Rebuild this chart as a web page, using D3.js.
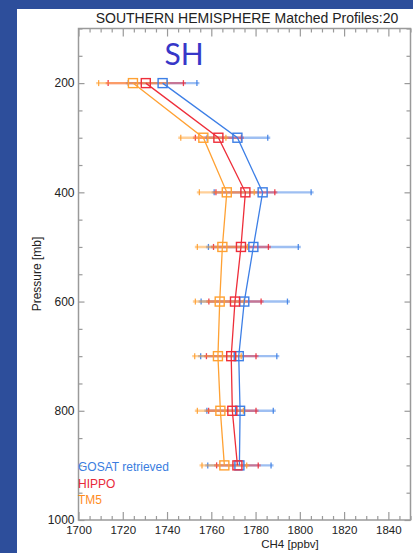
<!DOCTYPE html>
<html>
<head>
<meta charset="utf-8">
<script src="https://cdn.jsdelivr.net/npm/d3@7"></script>
<style>
  html, body { margin: 0; padding: 0; background: #2d4e9b; }
  svg { display: block; }
</style>
</head>
<body>
<svg id="chart" width="413" height="553"></svg>
<script>
// Pressure levels (mb) of the matched profiles
const levels = [200, 300, 400, 500, 600, 700, 800, 900];

// Mean CH4 (ppbv) and spread at each level
const gosat    = [1738.0, 1771.8, 1783.2, 1779.0, 1774.9, 1772.4, 1773.0, 1772.7];
const gosatErr = [15.5, 13.7, 21.9, 20.3, 19.5, 17.2, 15.0, 14.3];
const hippo    = [1730.4, 1763.2, 1775.4, 1773.4, 1770.7, 1769.0, 1769.5, 1771.8];
const hippoErr = [17.0, 10.4, 13.3, 12.4, 11.8, 11.2, 10.7, 9.4];
const tm5      = [1724.6, 1756.4, 1767.0, 1765.0, 1763.8, 1763.0, 1764.1, 1765.9];
const tm5Err   = [15.5, 10.2, 12.4, 11.3, 11.0, 10.5, 10.4, 10.1];

const seriesNames = ["GOSAT retrieved", "HIPPO", "TM5"];

// Axis ticks
const xMajorTicks = [1700, 1720, 1740, 1760, 1780, 1800, 1820, 1840];
const yMajorTicks = [200, 400, 600, 800, 1000];

const title = "SOUTHERN HEMISPHERE Matched Profiles:20";
const regionLabel = "SH";

const colors = { "GOSAT retrieved": "#3d7fe6", "HIPPO": "#ee2e3a", "TM5": "#ffa133" };
const legendColors = { "GOSAT retrieved": "#3a7de0", "HIPPO": "#e82a3a", "TM5": "#ff8c1f" };

const series = [
  { name: seriesNames[0], values: gosat, err: gosatErr },
  { name: seriesNames[1], values: hippo, err: hippoErr },
  { name: seriesNames[2], values: tm5, err: tm5Err }
];

const svg = d3.select("#chart");
const font = "'Liberation Sans', Arial, sans-serif";

// white panel
svg.append("rect").attr("x", 17).attr("y", 9).attr("width", 396).attr("height", 544).attr("fill", "#fff");

const plotLeft = 78.5, plotRight = 410.5, plotTop = 28.5, plotBottom = 520;
const x = d3.scaleLinear().domain([1700, 1850]).range([plotLeft, plotRight]);
const y = d3.scaleLinear().domain([100, 1000]).range([plotTop, plotBottom]);

const axisColor = "#9a9a9a";
const xMinor = d3.range(1700, 1851, 5).filter(v => v % 20 !== 0);
const yMinor = d3.range(100, 1001, 50).filter(v => v % 200 !== 0);

function styleAxis(g) {
  g.select(".domain").remove();
  g.selectAll(".tick line").attr("stroke", axisColor).attr("stroke-width", 1.2);
  g.selectAll(".tick text").attr("fill", "#222").style("font-family", font);
}

// bottom axis
svg.append("g").attr("transform", `translate(0,${plotBottom})`)
  .call(d3.axisBottom(x).tickValues(xMajorTicks).tickSize(-8).tickPadding(6).tickFormat(d3.format("d")))
  .call(styleAxis).selectAll(".tick text").style("font-size", "11.5px");
svg.append("g").attr("transform", `translate(0,${plotBottom})`)
  .call(d3.axisBottom(x).tickValues(xMinor).tickSize(-4).tickFormat(""))
  .call(styleAxis);

// top axis
svg.append("g").attr("transform", `translate(0,${plotTop})`)
  .call(d3.axisTop(x).tickValues(xMajorTicks).tickSize(-8).tickFormat(""))
  .call(styleAxis);
svg.append("g").attr("transform", `translate(0,${plotTop})`)
  .call(d3.axisTop(x).tickValues(xMinor).tickSize(-4).tickFormat(""))
  .call(styleAxis);

// left axis
svg.append("g").attr("transform", `translate(${plotLeft},0)`)
  .call(d3.axisLeft(y).tickValues(yMajorTicks).tickSize(-6).tickPadding(4).tickFormat(d3.format("d")))
  .call(styleAxis).selectAll(".tick text").style("font-size", "12px");
svg.append("g").attr("transform", `translate(${plotLeft},0)`)
  .call(d3.axisLeft(y).tickValues(yMinor).tickSize(-4).tickFormat(""))
  .call(styleAxis);

// right axis
svg.append("g").attr("transform", `translate(${plotRight},0)`)
  .call(d3.axisRight(y).tickValues(yMajorTicks).tickSize(-6).tickFormat(""))
  .call(styleAxis);
svg.append("g").attr("transform", `translate(${plotRight},0)`)
  .call(d3.axisRight(y).tickValues(yMinor).tickSize(-4).tickFormat(""))
  .call(styleAxis);

// frame
svg.append("rect").attr("x", plotLeft).attr("y", plotTop)
  .attr("width", plotRight - plotLeft).attr("height", plotBottom - plotTop)
  .attr("fill", "none").attr("stroke", axisColor).attr("stroke-width", 1.5);

// error bars
series.forEach(s => {
  const c = colors[s.name];
  const g = svg.append("g");
  levels.forEach((p, i) => {
    const x0 = x(s.values[i] - s.err[i]), x1 = x(s.values[i] + s.err[i]), yy = y(p);
    g.append("line").attr("x1", x0 - 2.5).attr("x2", x1 + 2.5).attr("y1", yy).attr("y2", yy)
      .attr("stroke", c).attr("stroke-width", 2.4).attr("stroke-opacity", 0.5);
    [x0, x1].forEach(xx => {
      g.append("line").attr("x1", xx).attr("x2", xx).attr("y1", yy - 3).attr("y2", yy + 3)
        .attr("stroke", c).attr("stroke-width", 1.3).attr("stroke-opacity", 0.9);
    });
  });
});

// profiles and markers
const line = d3.line().x(d => x(d[0])).y(d => y(d[1]));
series.forEach(s => {
  const c = colors[s.name];
  const pts = levels.map((p, i) => [s.values[i], p]);
  svg.append("path").attr("d", line(pts)).attr("fill", "none").attr("stroke", c).attr("stroke-width", 1.3);
  svg.append("g").selectAll("rect").data(pts).join("rect")
    .attr("x", d => x(d[0]) - 4.5).attr("y", d => y(d[1]) - 4.5)
    .attr("width", 9).attr("height", 9)
    .attr("fill", "none").attr("stroke", c).attr("stroke-width", 1.4);
});

// title
svg.append("text").attr("x", 247).attr("y", 22.5).attr("text-anchor", "middle")
  .style("font-family", font).style("font-size", "14px").attr("fill", "#222").text(title);

// region label
svg.append("text").attr("x", 184).attr("y", 65).attr("text-anchor", "middle")
  .style("font-family", "Lato, 'Open Sans', sans-serif").style("font-size", "30px").attr("fill", "#3737c8")
  .text(regionLabel);

// axis titles
svg.append("text").attr("transform", "translate(41,274) rotate(-90)").attr("text-anchor", "middle")
  .style("font-family", font).style("font-size", "12px").attr("fill", "#222").text("Pressure [mb]");
svg.append("text").attr("x", 290).attr("y", 547.5).attr("text-anchor", "middle")
  .style("font-family", font).style("font-size", "11.5px").attr("fill", "#222").text("CH4 [ppbv]");

// legend
seriesNames.forEach((n, i) => {
  svg.append("text").attr("x", 78).attr("y", 471 + i * 16.5)
    .style("font-family", font).style("font-size", "12px").attr("fill", legendColors[n]).text(n);
});
</script>
</body>
</html>
